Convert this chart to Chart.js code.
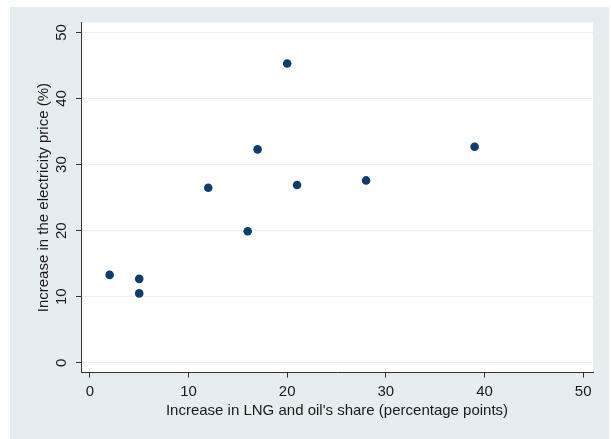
<!DOCTYPE html>
<html>
<head>
<meta charset="utf-8">
<script src="https://cdn.jsdelivr.net/npm/chart.js@4"></script>
<style>
  body { margin: 0; background: #ffffff; }
  canvas { display: block; }
</style>
</head>
<body>
<canvas id="myChart" width="611" height="439"></canvas>
<script>
// DATA
const shareIncrease = [2, 5, 5, 12, 16, 17, 20, 21, 28, 39];
const priceIncrease = [13.3, 12.7, 10.5, 26.5, 19.9, 32.3, 45.3, 26.9, 27.6, 32.7];
const xTickValues = [0, 10, 20, 30, 40, 50];
const yTickValues = [0, 10, 20, 30, 40, 50];
const xTitle = "Increase in LNG and oil's share (percentage points)";
const yTitle = "Increase in the electricity price (%)";

const points = shareIncrease.map((x, i) => ({ x: x, y: priceIncrease[i] }));

const FONT = "'Liberation Sans', Arial, sans-serif";
const TEXT = "#1a1a1a";
const AXIS = "#333333";

// background: light bluish graph region, white plot region
const backgroundPlugin = {
    id: "stataBackground",
    beforeDraw(chart) {
        const { ctx, chartArea } = chart;
        ctx.save();
        ctx.fillStyle = "#ffffff";
        ctx.fillRect(0, 0, chart.width, chart.height);
        ctx.fillStyle = "#e5edf1";
        ctx.fillRect(10, 7, 599, 432);
        ctx.fillStyle = "#ffffff";
        ctx.fillRect(chartArea.left, chartArea.top,
            chartArea.right - chartArea.left, chartArea.bottom - chartArea.top);
        ctx.restore();
    },
};

// y tick labels are rotated like the reference (reading bottom to top)
const yLabelsPlugin = {
    id: "yLabels",
    afterDraw(chart) {
        const { ctx } = chart;
        const y = chart.scales.y;
        ctx.save();
        ctx.font = "15px " + FONT;
        ctx.fillStyle = TEXT;
        ctx.textAlign = "center";
        ctx.textBaseline = "middle";
        yTickValues.forEach((v) => {
            ctx.save();
            ctx.translate(62, y.getPixelForValue(v));
            ctx.rotate(-Math.PI / 2);
            ctx.fillText(String(v), 0, 0);
            ctx.restore();
        });
        ctx.restore();
    },
};

const config = {
    type: "scatter",
    data: {
        datasets: [
            {
                data: points,
                backgroundColor: "#0c3d6f",
                borderWidth: 0,
                pointRadius: 4.3,
                pointHoverRadius: 4.3,
            },
        ],
    },
    options: {
        responsive: false,
        animation: false,
        layout: {
            padding: { left: 26, right: 18, top: 22.5, bottom: 14 },
        },
        scales: {
            x: {
                type: "linear",
                min: -0.9,
                max: 51,
                afterBuildTicks: (scale) => {
                    scale.ticks = xTickValues.map((v) => ({ value: v }));
                },
                afterFit: (scale) => {
                    scale.height = 52.3;
                },
                grid: {
                    drawOnChartArea: false,
                    drawTicks: true,
                    tickLength: 5,
                    tickColor: AXIS,
                },
                border: { display: true, color: AXIS, width: 1 },
                ticks: {
                    font: { family: FONT, size: 15 },
                    color: TEXT,
                    padding: 5,
                    maxRotation: 0,
                },
                title: {
                    display: true,
                    text: xTitle,
                    font: { family: FONT, size: 15 },
                    color: TEXT,
                    padding: { top: 0, bottom: 5 },
                },
            },
            y: {
                type: "linear",
                min: -1.5,
                max: 51.5,
                afterBuildTicks: (scale) => {
                    scale.ticks = yTickValues.map((v) => ({ value: v }));
                },
                afterFit: (scale) => {
                    scale.width = 55;
                },
                grid: {
                    color: "#eaf1f3",
                    lineWidth: 1,
                    drawTicks: true,
                    tickLength: 5,
                    tickColor: AXIS,
                },
                border: { display: true, color: AXIS, width: 1 },
                ticks: {
                    display: false,
                },
                title: {
                    display: true,
                    text: yTitle,
                    font: { family: FONT, size: 15 },
                    color: TEXT,
                    padding: { top: 8.4, bottom: 0 },
                },
            },
        },
        plugins: {
            legend: { display: false },
            tooltip: { enabled: false },
        },
    },
    plugins: [backgroundPlugin, yLabelsPlugin],
};

const myChart = new Chart(document.getElementById("myChart"), config);
</script>
</body>
</html>
